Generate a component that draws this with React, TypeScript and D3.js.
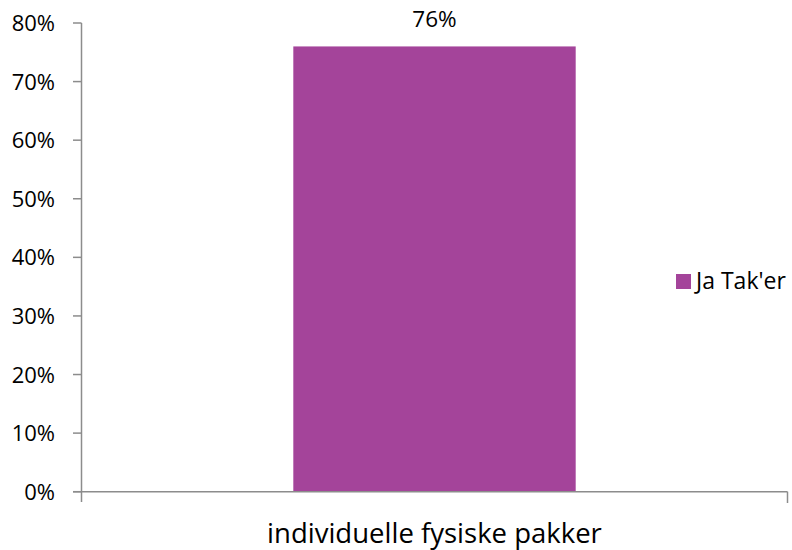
import React from "react";
import * as d3 from "d3";

const categories = ["individuelle fysiske pakker"];
const seriesName = "Ja Tak'er";
const values = [0.76];
const yTicks = [0, 0.1, 0.2, 0.3, 0.4, 0.5, 0.6, 0.7, 0.8];

const W = 792;
const H = 550;
const FONT = "'Open Sans', 'Liberation Sans', sans-serif";
const BAR = "#A4449A";
const AXIS = "#8C8C8C";

export default function App() {
  const left = 81.5;
  const right = 787.5;
  const top = 23;
  const bottom = 491.7;
  const x = d3.scaleBand<string>().domain(categories).range([left, right]).paddingInner(0.4286).paddingOuter(0.4286);
  const y = d3.scaleLinear().domain([0, 0.8]).range([bottom, top]);
  const fmt = d3.format(".0%");

  return (
    <svg width={W} height={H} style={{ position: "absolute", left: 0, top: 0, background: "#fff" }} fontFamily={FONT}>
      {/* bars */}
      {categories.map((c, i) => (
        <g key={c}>
          <rect x={x(c)} y={y(values[i])} width={x.bandwidth()} height={y(0) - y(values[i])} fill={BAR} />
          <text x={(x(c) as number) + x.bandwidth() / 2} y={27} textAnchor="middle" fontSize={22.5} fill="#000">
            {fmt(values[i])}
          </text>
          <text x={(x(c) as number) + x.bandwidth() / 2} y={543} textAnchor="middle" fontSize={27.5} fill="#000">
            {c}
          </text>
        </g>
      ))}
      {/* y axis */}
      <line x1={left} x2={left} y1={top} y2={502} stroke={AXIS} strokeWidth={1.5} />
      {yTicks.map((t) => (
        <g key={t}>
          <line x1={73} x2={left} y1={y(t)} y2={y(t)} stroke={AXIS} strokeWidth={1.5} />
          <text x={55} y={y(t) + 8} textAnchor="end" fontSize={22} fill="#000">
            {fmt(t)}
          </text>
        </g>
      ))}
      {/* x axis */}
      <line x1={73} x2={right} y1={bottom} y2={bottom} stroke={AXIS} strokeWidth={1.5} />
      <line x1={right} x2={right} y1={bottom} y2={503} stroke={AXIS} strokeWidth={1.5} />
      {/* legend */}
      <rect x={676} y={274} width={15} height={15} fill={BAR} />
      <text x={696} y={289} fontSize={23} fill="#000">
        {seriesName}
      </text>
    </svg>
  );
}
